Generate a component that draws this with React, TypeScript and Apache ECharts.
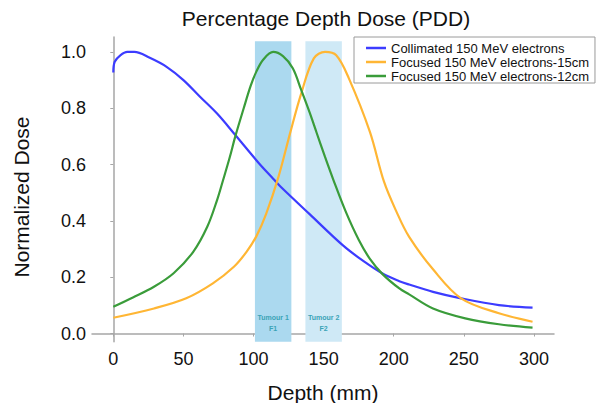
import React, { useEffect, useRef } from "react";
import * as echarts from "echarts";

const FONT = "'Liberation Sans', Arial, Helvetica, sans-serif";

// Axis ticks
const xTicks = [0, 50, 100, 150, 200, 250, 300];
const yTicks = [0, 0.2, 0.4, 0.6, 0.8, 1.0];

// Collimated 150 MeV electrons
const blueDepth = [0, 1, 5, 10, 15, 26, 38, 50, 62, 74, 87, 104, 114, 119, 140, 164, 179, 192, 204, 211, 228, 248, 275, 299];
const blueDose = [0.927, 0.965, 0.988, 1.0, 1.0, 0.979, 0.947, 0.9, 0.84, 0.781, 0.705, 0.604, 0.55, 0.523, 0.424, 0.312, 0.255, 0.213, 0.186, 0.174, 0.148, 0.125, 0.101, 0.092];

// Focused 150 MeV electrons-15cm
const orangeDepth = [0, 29, 52, 71, 86, 95, 102, 109, 118, 126, 134, 143, 151, 159, 168, 183, 193, 202, 211, 228, 248, 275, 299];
const orangeDose = [0.056, 0.089, 0.125, 0.178, 0.237, 0.29, 0.345, 0.425, 0.56, 0.71, 0.852, 0.977, 1.0, 0.988, 0.906, 0.716, 0.54, 0.432, 0.343, 0.228, 0.125, 0.072, 0.042];

// Focused 150 MeV electrons-12cm
const greenDepth = [0, 14, 29, 43, 57, 67, 74, 78, 83, 87, 93, 98, 102, 107, 114, 121, 128, 134, 140, 145, 151, 157, 166, 175, 183, 192, 204, 211, 228, 251, 275, 299];
const greenDose = [0.095, 0.128, 0.166, 0.214, 0.29, 0.379, 0.474, 0.54, 0.625, 0.7, 0.8, 0.88, 0.93, 0.973, 1.0, 0.985, 0.942, 0.865, 0.785, 0.713, 0.627, 0.545, 0.43, 0.333, 0.265, 0.211, 0.16, 0.139, 0.089, 0.054, 0.033, 0.021];

// Tumour bands (depth in mm)
const bandStart = [101, 137];
const bandEnd = [127, 163];
const bandTitle = ["Tumour 1", "Tumour 2"];
const bandSub = ["F1", "F2"];
const bandColors = ["#abd9ef", "#cfe9f6"];

const seriesNames = [
  "Collimated 150 MeV electrons",
  "Focused 150 MeV electrons-15cm",
  "Focused 150 MeV electrons-12cm",
];
const seriesColors = ["#3c3cff", "#ffb634", "#3a9c3a"];

const X_MIN = -15.2;
const X_MAX = 314.3;
const Y_MIN = -0.029;
const Y_MAX = 1.053;
const BAND_TOP = 1.038;

const pairs = (xs: number[], ys: number[]) => xs.map((x, i) => [x, ys[i]]);

export default function App() {
  const ref = useRef<HTMLDivElement>(null);

  useEffect(() => {
    const chart = echarts.init(ref.current!, null, { renderer: "svg" });
    const axisColor = "#a6a6a6";
    const lineSeries = (i: number, xs: number[], ys: number[]) => ({
      name: seriesNames[i],
      type: "line",
      data: pairs(xs, ys),
      smooth: 0.35,
      symbol: "none",
      z: 3,
      lineStyle: { color: seriesColors[i], width: 2.2 },
      itemStyle: { color: seriesColors[i] },
    });
    const option: any = {
      animation: false,
      backgroundColor: "#ffffff",
      textStyle: { fontFamily: FONT },
      grid: { left: 92, right: 46, top: 37, bottom: 61.3, containLabel: false, outerBoundsMode: "none" },
      graphic: [
        {
          type: "text",
          x: 326,
          y: 18.5,
          style: {
            text: "Percentage Depth Dose (PDD)",
            font: `21px ${FONT}`,
            fill: "#111",
            align: "center",
            verticalAlign: "middle",
            textAlign: "center",
            textVerticalAlign: "middle",
          },
        },
        {
          type: "text",
          x: 21,
          y: 197,
          rotation: Math.PI / 2,
          style: {
            text: "Normalized Dose",
            font: `21px ${FONT}`,
            fill: "#111",
            align: "center",
            verticalAlign: "middle",
            textAlign: "center",
            textVerticalAlign: "middle",
          },
        },
      ],
      legend: {
        data: seriesNames,
        icon: "rect",
        orient: "vertical",
        left: 354,
        top: 37,
        padding: [4, 6, 0, 12],
        itemWidth: 20,
        itemHeight: 2.5,
        itemGap: 0,
        backgroundColor: "#ffffff",
        borderColor: "#9a9a9a",
        borderWidth: 1,
        borderRadius: 0,
        textStyle: { fontSize: 13, fontFamily: FONT, color: "#111", lineHeight: 14 },
      },
      xAxis: {
        type: "value",
        min: X_MIN,
        max: X_MAX,
        name: "Depth (mm)",
        nameLocation: "middle",
        nameGap: 40,
        nameTextStyle: { fontSize: 21, fontFamily: FONT, color: "#111" },
        axisLine: { show: true, lineStyle: { color: axisColor, width: 1.5 } },
        axisTick: { show: true, length: 3, customValues: xTicks, lineStyle: { color: axisColor } },
        axisLabel: { customValues: xTicks, fontSize: 18, margin: 8, color: "#111", fontFamily: FONT },
        splitLine: { show: false },
      },
      yAxis: {
        type: "value",
        min: Y_MIN,
        max: Y_MAX,
        axisLine: { show: true, lineStyle: { color: axisColor, width: 1.5 } },
        axisTick: { show: true, length: 3, customValues: yTicks, lineStyle: { color: axisColor } },
        axisLabel: {
          customValues: yTicks,
          fontSize: 18,
          margin: 6,
          color: "#111",
          fontFamily: FONT,
          formatter: (v: number) => v.toFixed(1),
        },
        splitLine: { show: false },
      },
      series: [
        {
          name: "bands",
          type: "line",
          data: [],
          z: 1,
          silent: true,
          markArea: {
            silent: true,
            data: bandStart.map((s, i) => [
              {
                xAxis: s,
                yAxis: Y_MIN,
                itemStyle: { color: bandColors[i], opacity: 1 },
                label: {
                  show: true,
                  position: "insideBottom",
                  distance: 8,
                  formatter: `${bandTitle[i]}\n${bandSub[i]}`,
                  color: "#3aa3b6",
                  fontSize: 7,
                  fontWeight: "bold",
                  lineHeight: 10.5,
                  fontFamily: FONT,
                },
              },
              { xAxis: bandEnd[i], yAxis: BAND_TOP },
            ]),
          },
        },
        lineSeries(0, blueDepth, blueDose),
        lineSeries(1, orangeDepth, orangeDose),
        lineSeries(2, greenDepth, greenDose),
      ],
    };
    chart.setOption(option);
    return () => chart.dispose();
  }, []);

  return (
    <div
      ref={ref}
      style={{ position: "fixed", left: 0, top: 0, width: 600, height: 403 }}
    />
  );
}
